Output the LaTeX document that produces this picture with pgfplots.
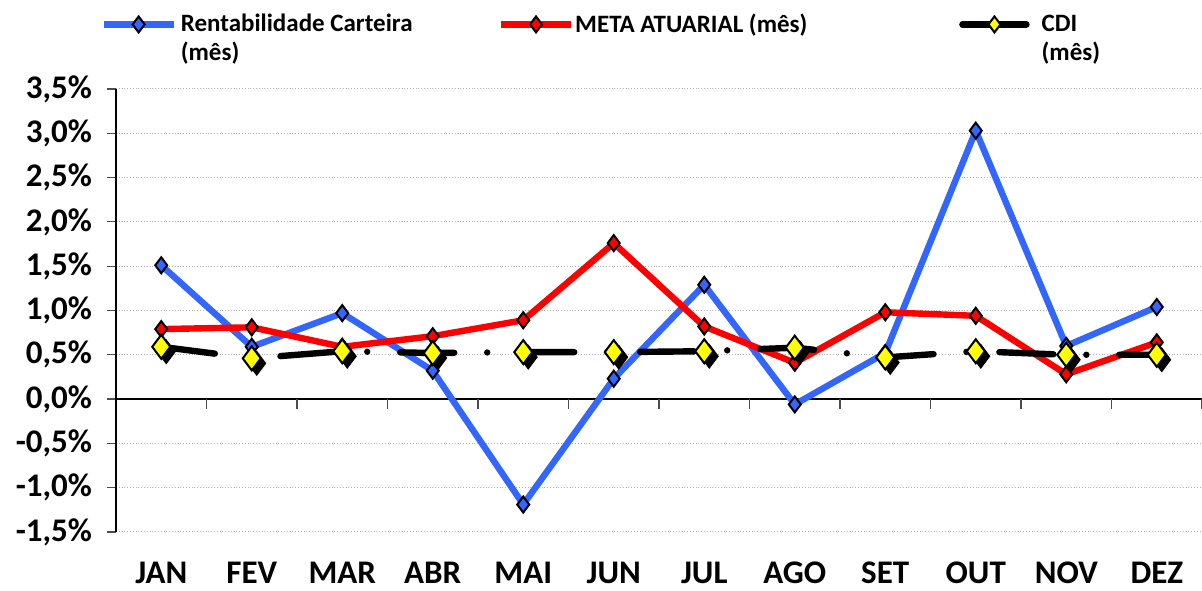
\documentclass[border=0pt]{standalone}
\usepackage{fontspec}
\setmainfont{Carlito}
\usepackage{pgfplots}
\pgfplotsset{compat=1.18}
\definecolor{cblue}{RGB}{51,102,255}
\definecolor{cred}{RGB}{255,0,0}
\definecolor{cyell}{RGB}{255,255,0}
\begin{document}
\begin{tikzpicture}
\begin{axis}[
  name=ax,
  scale only axis,
  width=543pt, height=221.5pt,
  xmin=0.5, xmax=12.5,
  ymin=-1.5, ymax=3.5,
  axis y line=left,
  axis x line*=bottom,
  y axis line style={-, black, line width=0.6pt},
  x axis line style={draw=none},
  xtick={1,...,12},
  xticklabels={JAN,FEV,MAR,ABR,MAI,JUN,JUL,AGO,SET,OUT,NOV,DEZ},
  major x tick style={draw=none},
  xticklabel style={font=\bfseries\fontsize{16.5}{19}\selectfont, anchor=north, yshift=-11.3pt},
  ytick={-1.5,-1,...,3.5},
  yticklabels={{-1,5\%},{-1,0\%},{-0,5\%},{0,0\%},{0,5\%},{1,0\%},{1,5\%},{2,0\%},{2,5\%},{3,0\%},{3,5\%}},
  yticklabel style={font=\bfseries\fontsize{16.5}{19}\selectfont, xshift=-4pt},
  ytick align=outside,
  major tick length=4.5pt,
  major y tick style={black!70, line width=0.6pt},
  ymajorgrids,
  major grid style={densely dotted, black!30, line width=0.5pt},
  legend columns=3,
  legend style={at={(axis description cs:-0.0147,1.18)}, anchor=north west, draw=none, fill=none,
    inner sep=0pt, font=\bfseries\fontsize{12.5}{14.5}\selectfont, column sep=0pt},
  legend cell align=left,
  legend image code/.code={\draw[mark repeat=2,mark phase=2] plot coordinates {(0pt,0pt) (17.5pt,0pt) (35pt,0pt)};},
  clip=false,
]
% zero line and category boundary ticks
\draw[black, line width=0.6pt] (axis cs:0.5,0) -- (axis cs:12.5,0);
\pgfplotsinvokeforeach{1.5,2.5,...,12.5}{\draw[black!70, line width=0.6pt] (axis cs:#1,0) -- ++(0pt,-5pt);}

\addplot[cblue, line width=3.2pt, mark=diamond*, mark size=4pt,
  mark options={fill=cblue, draw=black, line width=1pt, solid}]
  coordinates {(1,1.51) (2,0.59) (3,0.97) (4,0.32) (5,-1.19) (6,0.23) (7,1.29) (8,-0.06) (9,0.52) (10,3.03) (11,0.60) (12,1.04)};
\addlegendentry{\raisebox{0pt}[\height][0pt]{\parbox[t]{156.5pt}{Rentabilidade Carteira\\(mês)}}}

\addplot[cred, line width=3.2pt, mark=diamond*, mark size=4pt,
  mark options={fill=cred, draw=black, line width=1pt, solid}]
  coordinates {(1,0.79) (2,0.81) (3,0.59) (4,0.71) (5,0.89) (6,1.76) (7,0.82) (8,0.41) (9,0.98) (10,0.94) (11,0.28) (12,0.64)};
\addlegendentry{\hspace*{-1.5pt}\raisebox{0pt}[\height][0pt]{\parbox[t]{190pt}{META ATUARIAL (mês)}}}

% CDI marker shadows
\addplot[only marks, mark=diamond*, mark size=6pt, forget plot,
  mark options={fill=black, draw=black, xshift=2.5pt, yshift=-2.5pt}]
  coordinates {(1,0.59) (2,0.46) (3,0.54) (4,0.52) (5,0.53) (6,0.53) (7,0.54) (8,0.58) (9,0.47) (10,0.54) (11,0.50) (12,0.50)};

\addplot[black, line width=3.2pt, line cap=round, dash pattern=on 27pt off 16.5pt on 0pt off 16.5pt,
  mark=diamond*, mark size=6pt,
  mark options={fill=cyell, draw=black, line width=1pt, solid},
  legend image code/.code={\draw[solid, mark repeat=2,mark phase=2, mark size=4pt] plot coordinates {(0pt,0pt) (16pt,0pt) (32pt,0pt)};}]
  coordinates {(1,0.59) (2,0.46) (3,0.54) (4,0.52) (5,0.53) (6,0.53) (7,0.54) (8,0.58) (9,0.47) (10,0.54) (11,0.50) (12,0.50)};
\addlegendentry{\hspace*{4pt}\raisebox{0pt}[\height][0pt]{\parbox[t]{60pt}{CDI\\(mês)}}}
\end{axis}
\pgfresetboundingbox
\path[use as bounding box] ([xshift=-58pt,yshift=44.5pt]ax.north west) rectangle ([yshift=-29.5pt]ax.south east);
\end{tikzpicture}
\end{document}
